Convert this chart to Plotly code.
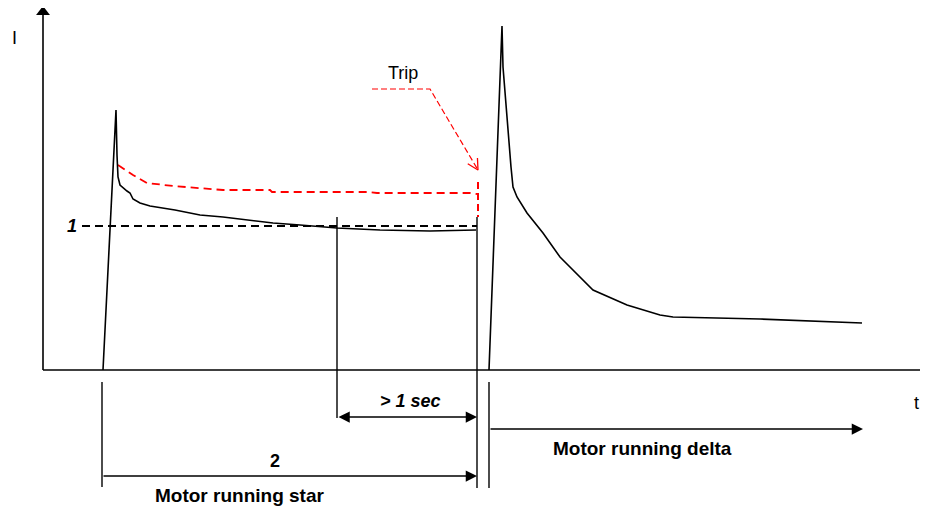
import math
import plotly.graph_objects as go

# ---- data (t = time units, I = current units; origin at axes crossing) ----
star_t = [60, 73, 74, 75, 77, 80, 84, 87, 90, 97, 107, 132, 157, 180, 207, 230, 257, 294, 337, 387, 433]
star_I = [0, 260, 215, 193, 185, 182, 179, 177, 171, 167, 164, 160, 155, 153, 150, 147, 145, 142, 140, 139, 140]

delta_t = [446, 459, 460, 465, 468, 470, 474, 484, 500, 517, 537, 550, 584, 617, 630, 717, 819]
delta_I = [0, 344, 303, 237, 203, 183, 173, 157, 137, 113, 93, 80, 65, 55, 53, 51, 47]

trip_t = [75, 90, 104, 130, 180, 227, 229, 324, 334, 427, 434]
trip_I = [205, 195, 187, 184, 180, 180, 178, 178, 177, 177, 176]

trip_vert_t = [435, 435]
trip_vert_I = [188, 153]

leader_t = [329, 387, 435]
leader_I = [281, 281, 200]

level1_t = [39, 434]
level1_I = [144, 144]

# vertical marker lines (t, I_top, I_bottom)
v_lines = [(59, -12, -117), (294, 153, -48), (434, 153, -118), (446, -12, -118)]

# dimension arrows (t_start, t_end, I, both_ends)
arrows = [(294, 434, -47, True), (59, 434, -106, False), (446, 820, -59, False)]

x_axis_end = 895
y_axis_end = 363

BLACK = "#000000"
RED = "#ff0000"
FONT = "Liberation Sans, Arial, sans-serif"

fig = go.Figure()

def line(t, i, color=BLACK, width=1.5, dash="solid"):
    fig.add_trace(go.Scatter(x=t, y=i, mode="lines",
                             line=dict(color=color, width=width, dash=dash),
                             hoverinfo="skip", showlegend=False))

# axes
line([0, x_axis_end - 8], [0, 0], width=1.6)
line([0, 0], [0, y_axis_end - 8], width=1.6)
fig.add_trace(go.Scatter(x=[x_axis_end - 4], y=[0], mode="markers",
                         marker=dict(symbol="triangle-right", size=12, color=BLACK),
                         cliponaxis=True, hoverinfo="skip", showlegend=False))
fig.add_trace(go.Scatter(x=[0], y=[y_axis_end - 5], mode="markers",
                         marker=dict(symbol="triangle-up", size=12, color=BLACK),
                         cliponaxis=False, hoverinfo="skip", showlegend=False))

# curves
line(trip_t, trip_I, color=RED, width=1.8, dash="8px,5px")
line(trip_vert_t, trip_vert_I, color=RED, width=2, dash="7px,4px")
line(leader_t, leader_I, color=RED, width=1.2, dash="6px,3px")
line(level1_t, level1_I, width=1.8, dash="8px,5px")
line(star_t, star_I, width=1.6)
line(delta_t, delta_I, width=1.6)

for t, a, b in v_lines:
    line([t, t], [a, b], width=1.4)

# open red V arrowhead at end of Trip leader (computed from leader direction)
dt = leader_t[2] - leader_t[1]
di = leader_I[2] - leader_I[1]
ang = math.atan2(di, dt)
arm, spread = 12, math.radians(28)
v_t = [leader_t[2] - arm * math.cos(ang - spread), leader_t[2],
       leader_t[2] - arm * math.cos(ang + spread)]
v_I = [leader_I[2] - arm * math.sin(ang - spread), leader_I[2],
       leader_I[2] - arm * math.sin(ang + spread)]
line(v_t, v_I, color=RED, width=1.3)

annotations = []
for t0, t1, i, both in arrows:
    annotations.append(dict(x=t1, y=i, ax=t0, ay=i, xref="x", yref="y",
                            axref="x", ayref="y", text="", showarrow=True,
                            arrowhead=2, arrowsize=1.5, arrowwidth=1.5,
                            arrowcolor=BLACK, standoff=0, startstandoff=0,
                            arrowside="end+start" if both else "end",
                            startarrowhead=2, startarrowsize=1.5))

def label(t, i, txt, size=18):
    annotations.append(dict(x=t, y=i, xref="x", yref="y", text=txt, showarrow=False,
                            font=dict(family=FONT, size=size, color=BLACK),
                            xanchor="center", yanchor="middle"))

label(-29, 332, "I")
label(873, -33, "t")
label(360, 297, "Trip")
label(29, 144, "<b><i>1</i></b>")
label(367, -31, "<b><i>&gt; 1 sec</i></b>")
label(232, -91, "<b>2</b>")
label(196, -125, "<b>Motor running star</b>", size=19)
label(599, -78, "<b>Motor running delta</b>", size=19)

# page body has an 8px margin: figure is sized and ranged to fit the 928x506 window
fig.update_layout(
    width=920, height=498,
    margin=dict(l=0, r=0, t=0, b=0),
    paper_bgcolor="white", plot_bgcolor="white",
    xaxis=dict(range=[-35, 885], visible=False, fixedrange=True),
    yaxis=dict(range=[-136, 362], visible=False, fixedrange=True),
    annotations=annotations,
    showlegend=False,
)

fig.write_html("out.html", config={"displayModeBar": False})
